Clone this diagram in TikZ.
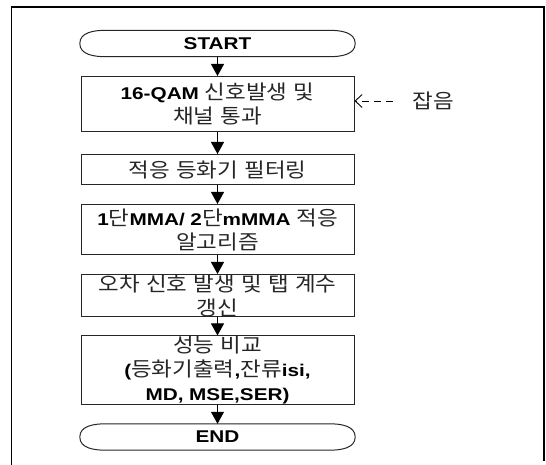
\documentclass[tikz,border=0pt]{standalone}
\usepackage{graphicx}
\usepackage{fontspec}
\setmainfont{Liberation Sans}[FakeStretch=1.22]
\newfontfamily\krfont{Noto Sans CJK KR}[Scale=1.18]
\usetikzlibrary{arrows.meta}
\newcommand\K[1]{\scalebox{1.12}[1]{\krfont\mdseries\spaceskip=0.28em\relax\color{black!85}#1}}
\begin{document}
\begin{tikzpicture}[x=1pt,y=-1pt,
  every node/.style={font=\fontsize{17}{24}\selectfont\bfseries},
  procbox/.style={draw=black!85, line width=1pt, inner sep=0pt,
    minimum width=273pt, text width=273pt, align=center},
  termnode/.style={inner sep=0pt, minimum width=223pt, minimum height=26pt},
  termline/.style={draw=black!85, line width=1pt},
  flowarrow/.style={line width=1pt, -{Triangle[width=13pt,length=12pt]}},
  noisearrow/.style={line width=0.9pt, dash pattern=on 7pt off 5pt,
    -{Straight Barb[length=7pt,width=13pt]}}]
\useasboundingbox (0,0) rectangle (546,465);
\draw[line width=1.1pt] (11.5,465) -- (11.5,7) -- (544,7) -- (544,461);

% terminals
\node[termnode] (start) at (217.5,43.5) {START};
\draw[termline] (start.north west) -- (start.north east)
  to[out=0,in=90] ([xshift=26pt]start.east)
  to[out=-90,in=0] (start.south east) -- (start.south west)
  to[out=180,in=-90] ([xshift=-26pt]start.west)
  to[out=90,in=180] cycle;

\node[procbox, minimum height=55pt] (b1) at (217.5,104) {16-QAM \K{신호발생 및}\\ \K{채널 통과}};
\node[procbox, minimum height=30pt] (b2) at (217.5,169.5) {\K{적응 등화기 필터링}};
\node[procbox, minimum height=50pt] (b3) at (217.5,229.5) {1\K{단}MMA/ 2\K{단}mMMA \K{적응}\\ \K{알고리즘}};
\node[procbox, minimum height=41pt] (b4) at (217.5,295.5) {\K{오차 신호 발생 및 탭 계수}\\ \K{갱신}};
\node[procbox, minimum height=68pt] (b5) at (217.5,370) {\K{성능 비교}\\ (\K{등화기출력},\K{잔류}isi,\\ MD, MSE,SER)};

\node[termnode] (end) at (217.5,437) {END};
\draw[termline] (end.north west) -- (end.north east)
  to[out=0,in=90] ([xshift=26pt]end.east)
  to[out=-90,in=0] (end.south east) -- (end.south west)
  to[out=180,in=-90] ([xshift=-26pt]end.west)
  to[out=90,in=180] cycle;

% flow arrows
\draw[flowarrow] (start.south) -- (b1.north);
\draw[flowarrow] (b1.south) -- (b2.north);
\draw[flowarrow] (b2.south) -- (b3.north);
\draw[flowarrow] (b3.south) -- (b4.north);
\draw[flowarrow] (b4.south) -- (b5.north);
\draw[flowarrow] (b5.south) -- (end.north);

% noise input
\node[inner sep=0pt, anchor=west] (noise) at (412.5,101) {\K{잡음}};
\draw[noisearrow, shorten <=20pt] (noise.west) -- (b1.east |- noise.west);
\end{tikzpicture}
\end{document}
